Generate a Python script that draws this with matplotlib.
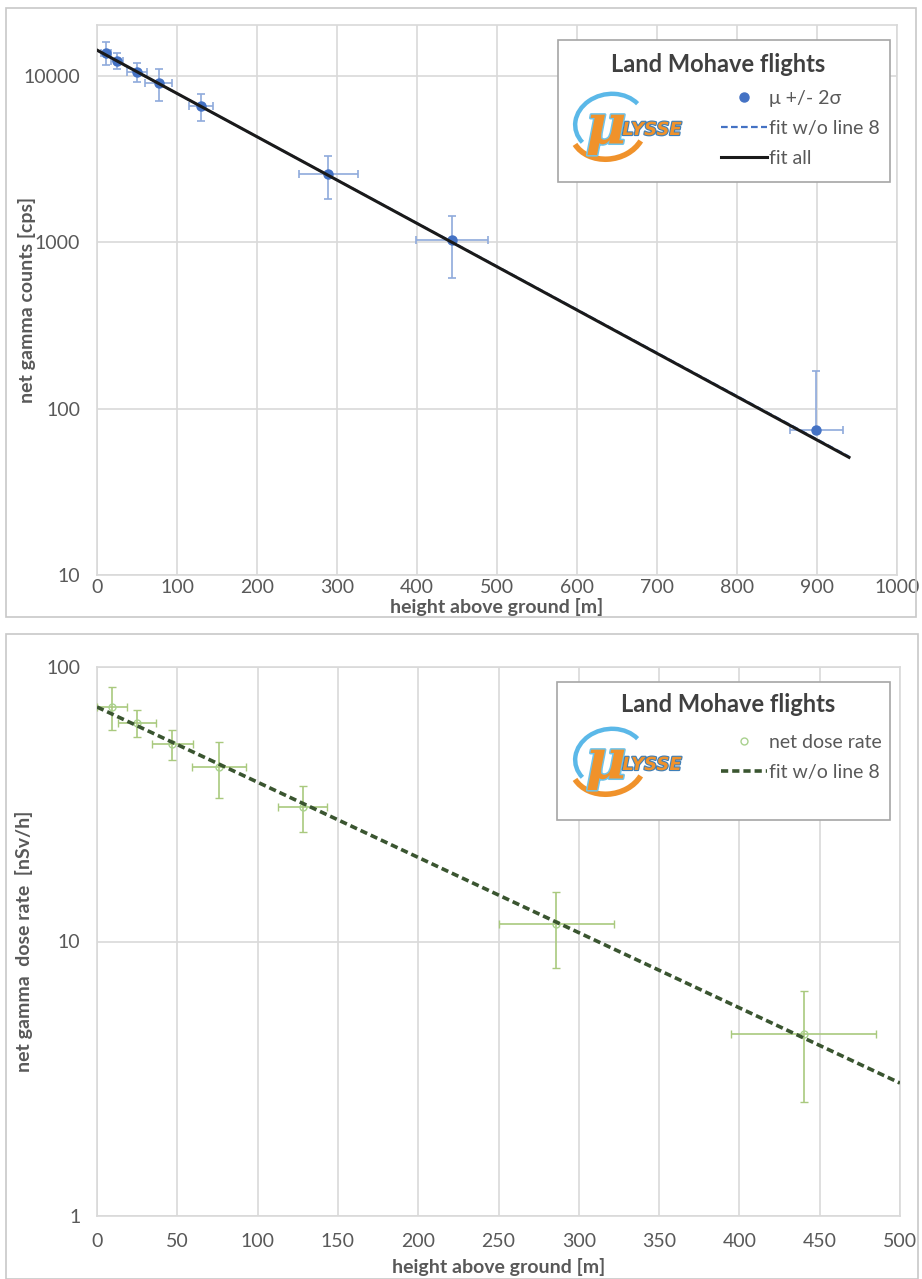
import matplotlib
matplotlib.use("Agg")
import matplotlib.pyplot as plt
import matplotlib.ticker as mticker
import matplotlib.patheffects as pe
from matplotlib.patches import Rectangle, Arc

# ---------------- data: top panel (net gamma counts) ----------------
cnt_h = [11, 25, 50, 77, 130, 289, 444, 899]
cnt_val = [13860, 12400, 10600, 9100, 6600, 2580, 1030, 74]
cnt_yerr_lo = [2200, 1300, 1400, 2000, 1250, 750, 420, 0]
cnt_yerr_hi = [2200, 1300, 1400, 2000, 1250, 750, 420, 95]
cnt_xerr = [6, 8, 12, 17, 15, 37, 45, 33]
fit_all_h = [0, 940]
fit_all_val = [14340, 51]
fit_no8_h = [0, 940]
fit_no8_val = [14300, 51.5]

# ---------------- data: bottom panel (net dose rate) ----------------
dose_h = [9.3, 25, 47, 76, 128, 286, 440]
dose_val = [71.7, 62.6, 52.3, 43.2, 31.0, 11.6, 4.6]
dose_yerr = [12.8, 7.0, 6.5, 10.0, 6.0, 3.6, 2.0]
dose_xerr = [9.5, 12, 13, 17, 15, 36, 45]
dose_fit_h = [0, 500]
dose_fit_val = [71.5, 3.05]

top_xticks = [0, 100, 200, 300, 400, 500, 600, 700, 800, 900, 1000]
top_yticks = [10, 100, 1000, 10000]
bot_xticks = [0, 50, 100, 150, 200, 250, 300, 350, 400, 450, 500]
bot_yticks = [1, 10, 100]

W, H = 922, 1279
plt.rcParams['font.family'] = ['Lato', 'DejaVu Sans']
fig = plt.figure(figsize=(W / 100, H / 100), dpi=100)
fig.patch.set_facecolor('white')

def fx(px):
    return px / W

def fy(py):
    return 1 - py / H

def axes_px(l, t, r, b):
    return fig.add_axes([fx(l), fy(b), (r - l) / W, (b - t) / H])

GRID = '#D9D9D9'
TXT = '#595959'
TICK_FS = 14
LABEL_FS = 14

# outer panel frames
for (l, t, r, b) in [(6, 8, 916, 617), (6, 634, 918, 1279)]:
    fig.add_artist(Rectangle((fx(l), fy(b)), (r - l) / W, (b - t) / H,
                             transform=fig.transFigure, fill=False,
                             edgecolor='#C8C8C8', lw=1.2))

def style_axes(ax, xticks, yticks, xlim, ylim, xpad):
    ax.set_yscale('log')
    ax.set_xlim(*xlim)
    ax.set_ylim(*ylim)
    ax.xaxis.set_major_locator(mticker.FixedLocator(xticks))
    ax.yaxis.set_major_locator(mticker.FixedLocator(yticks))
    ax.yaxis.set_minor_locator(mticker.NullLocator())
    ax.yaxis.set_major_formatter(mticker.FuncFormatter(lambda v, p: f"{v:g}" if v < 1e5 else ""))
    ax.xaxis.set_major_formatter(mticker.FuncFormatter(lambda v, p: f"{v:g}"))
    ax.grid(True, which='major', color=GRID, lw=1.2)
    ax.set_axisbelow(True)
    for s in ax.spines.values():
        s.set_color(GRID)
        s.set_linewidth(1.2)
    ax.tick_params(length=0, labelsize=TICK_FS, colors=TXT)
    ax.tick_params(axis='x', pad=xpad)
    ax.tick_params(axis='y', pad=12)

# ================= top panel =================
ax1 = axes_px(97, 25, 897, 575)
style_axes(ax1, top_xticks, top_yticks, (0, 1000), (10, 20300), xpad=3)
eb1 = ax1.errorbar(cnt_h, cnt_val, yerr=[cnt_yerr_lo, cnt_yerr_hi], xerr=cnt_xerr,
                   fmt='o', color='#4472C4', ms=6.5, ecolor='#8FAADC',
                   elinewidth=1.2, capsize=3, capthick=1.2, zorder=3)
l_no8, = ax1.plot(fit_no8_h, fit_no8_val, color='#4472C4', lw=1.6,
                  ls=(0, (3, 1.5)), zorder=4)
l_all, = ax1.plot(fit_all_h, fit_all_val, color='#1A1A1A', lw=2.2, zorder=5)
ax1.set_xlabel('height above ground [m]', fontsize=LABEL_FS, fontweight='bold',
               color=TXT, va='center')
ax1.xaxis.set_label_coords(0.5, -(607 - 575) / 550)
ax1.set_ylabel('net gamma counts [cps]', fontsize=LABEL_FS, fontweight='bold',
               color=TXT, va='center')
ax1.yaxis.set_label_coords((27 - 97) / 800, 0.5)

# ================= bottom panel =================
ax2 = axes_px(97, 667, 900, 1216)
style_axes(ax2, bot_xticks, bot_yticks, (0, 500), (1, 100), xpad=12)
eb2 = ax2.errorbar(dose_h, dose_val, yerr=dose_yerr, xerr=dose_xerr,
                   fmt='o', mfc='none', mec='#A9D18E', ms=5, mew=1.0,
                   ecolor='#A9C97E', elinewidth=1.2, capsize=3, capthick=1.2,
                   zorder=3)
l_dose, = ax2.plot(dose_fit_h, dose_fit_val, color='#3A5530', lw=2.6,
                   ls=(0, (2, 1.1)), zorder=4)
ax2.set_xlabel('height above ground [m]', fontsize=LABEL_FS, fontweight='bold',
               color=TXT, va='center')
ax2.xaxis.set_label_coords(0.5, -(1267 - 1216) / 549)
ax2.set_ylabel('net gamma  dose rate  [nSv/h]', fontsize=LABEL_FS, fontweight='bold',
               color=TXT, va='center')
ax2.yaxis.set_label_coords((24 - 97) / 803, 0.5)

# ================= legends with logo =================
def draw_logo(cx, cy):
    # stylised "μLYSSE" logo built from text and arcs
    ax_logo = fig.add_axes([fx(cx - 62), fy(cy + 36), 124 / W, 72 / H])
    ax_logo.set_zorder(12)
    ax_logo.set_xlim(-62, 62)
    ax_logo.set_ylim(-36, 36)
    ax_logo.axis('off')
    ax_logo.add_patch(Arc((-22, 4), 70, 58, angle=10, theta1=25, theta2=205,
                          color='#5BB8E8', lw=3.2))
    ax_logo.add_patch(Arc((-24, -2), 74, 60, angle=10, theta1=195, theta2=330,
                          color='#F0922B', lw=4.0))
    ax_logo.text(-26, -1, 'μ', fontsize=40, fontstyle='italic', fontweight='bold',
                 color='#F0922B', ha='center', va='center', family=['DejaVu Serif'],
                 path_effects=[pe.withStroke(linewidth=2.2, foreground='#6FC3EA')])
    ax_logo.text(20, -3, 'LYSSE', fontsize=13, fontstyle='italic', fontweight='heavy',
                 color='#F0922B', ha='center', va='center', family=['DejaVu Sans'],
                 path_effects=[pe.withStroke(linewidth=1.6, foreground='#3E7FB8')])

def legend_box(l, t, r, b):
    fig.add_artist(Rectangle((fx(l), fy(b)), (r - l) / W, (b - t) / H,
                             transform=fig.transFigure, facecolor='white',
                             edgecolor='#A6A6A6', lw=1.2, zorder=10))

LEG_FS = 14.0

def make_legend(handles, labels, top_y):
    leg = fig.legend(handles, labels, loc='upper left',
                     bbox_to_anchor=(fx(721), fy(top_y)),
                     frameon=False, fontsize=LEG_FS, handlelength=2.37,
                     handletextpad=0.12, labelspacing=0.67, borderpad=0,
                     borderaxespad=0, labelcolor=TXT)
    leg.set_zorder(12)
    return leg

# top legend
legend_box(558, 40, 890, 182)
fig.text(fx(718), fy(65), 'Land Mohave flights', fontsize=17, fontweight='bold',
         color='#404040', ha='center', va='center', zorder=11)
draw_logo(632, 127)
make_legend([eb1.lines[0], l_no8, l_all], ['μ +/- 2σ', 'fit w/o line 8', 'fit all'], 90)

# bottom legend
legend_box(557, 682, 890, 820)
fig.text(fx(728), fy(705), 'Land Mohave flights', fontsize=17, fontweight='bold',
         color='#404040', ha='center', va='center', zorder=11)
draw_logo(632, 762)
make_legend([eb2.lines[0], l_dose], ['net dose rate', 'fit w/o line 8'], 734)

fig.savefig('out.png', dpi=100, facecolor='white')
